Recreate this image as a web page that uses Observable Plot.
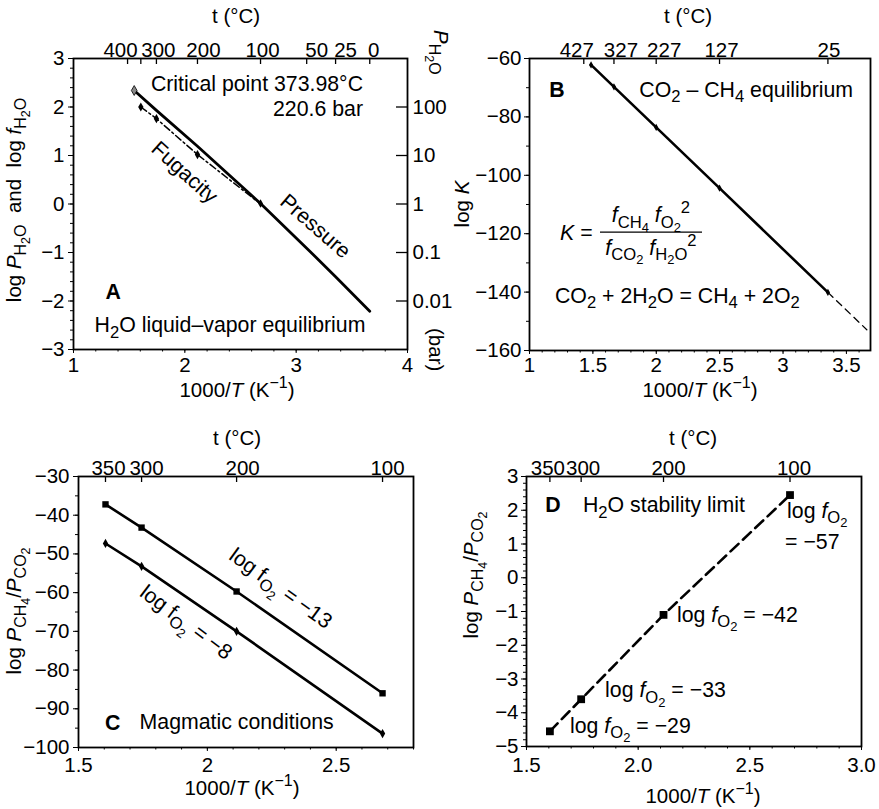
<!DOCTYPE html>
<html>
<head>
<meta charset="utf-8">
<script src="https://cdn.jsdelivr.net/npm/d3@7"></script>
<script src="https://cdn.jsdelivr.net/npm/@observablehq/plot@0.6"></script>
<style>
  body { margin: 0; background: #fff; }
  #fig { position: relative; width: 879px; height: 809px; }
  #fig svg { position: absolute; overflow: visible; }
</style>
</head>
<body>
<div id="fig"></div>
<script>
// ---------- A: H2O liquid–vapour equilibrium ----------
const satT = [373.98, 300, 200, 100, 50, 25, 0];          // °C
const satLogP = [2.34, 1.93, 1.19, 0.01, -0.91, -1.50, -2.21];
const fugT = [350, 300, 200, 100];
const fugLogF = [2.0, 1.76, 1.02, 0.0];
const topTicksA = [400, 350, 300, 200, 100, 50, 25, 0];
const topLabelsA = [400, 300, 200, 100, 50, 25, 0];
const barTicks = [-2, -1, 0, 1, 2];
const barLabels = ["0.01", "0.1", "1", "10", "100"];

// ---------- B: CO2 – CH4 equilibrium constant ----------
const eqT = [400, 327, 227, 127, 25];
const eqLogK = [-62.2, -69.7, -83.6, -104.4, -140.1];
const extT = [25, 0];
const extLogK = [-140.1, -152.9];
const topTicksB = [427, 327, 227, 127, 25];

// ---------- C: magmatic conditions ----------
const magT = [350, 300, 200, 100];
const ratioFO2m13 = [-37.2, -43.2, -59.7, -86.0];
const ratioFO2m8 = [-47.3, -53.2, -70.0, -96.4];
const topTicksCD = [350, 300, 200, 100];

// ---------- D: H2O stability limit ----------
const limT = [350, 300, 200, 100];
const limRatio = [-4.55, -3.6, -1.1, 2.45];
const limFO2 = [-29, -33, -42, -57];

// ---------- helpers ----------
const FONT = "'Liberation Sans', Arial, Helvetica, sans-serif";
const TICK = 20.5, LABEL = 21.3, TITLE = 20.5;
const MINUS = "\u2212";
const minus = d => (d < 0 ? MINUS : "") + Math.abs(d);
const invT = t => 1000 / (t + 273.15);
const none = () => "";
const steps = (a, b, s) => d3.range(Math.round((b - a) / s) + 1).map(i => +(a + i * s).toFixed(6));
const table = (ts, vs) => ts.map((t, i) => ({x: invT(t), y: vs[i]}));

// Frame, outward ticks on left/bottom, inward temperature ticks on top.
// Crowded temperature labels are nudged sideways by topNudge (px).
function frameAxes(o) {
  const nudge = o.topNudge ?? o.topLabels.map(() => 0);
  return [
    Plot.axisY({ticks: o.yMajor, tickSize: 5, tickPadding: o.yPad ?? 4, tickFormat: o.yFmt ?? minus, fontSize: TICK, label: null}),
    Plot.axisY({ticks: o.yMinor, tickSize: 3, tickFormat: none, label: null}),
    Plot.axisX({ticks: o.xMajor, tickSize: 4, tickPadding: o.xPad ?? 4, tickFormat: o.xFmt ?? (d => String(d)), fontSize: TICK, label: null}),
    Plot.axisX({ticks: o.xMinor, tickSize: 2.5, tickFormat: none, label: null}),
    Plot.ruleX(o.topTicks.map(invT), {insetBottom: o.innerH - 6, strokeWidth: 1.3}),
    ...o.topLabels.map((t, i) =>
      Plot.text([t], {x: invT, text: d => String(d), frameAnchor: "top", dy: o.topDy ?? -16, dx: nudge[i], fontSize: TICK})),
    Plot.frame({strokeWidth: 1.8})
  ];
}

function makePlot({width, height, mt, mr, mb, ml, x, y, marks}) {
  return Plot.plot({
    width, height,
    marginTop: mt, marginRight: mr, marginBottom: mb, marginLeft: ml,
    x: {domain: x, label: null},
    y: {domain: y, label: null},
    style: {fontFamily: FONT, fontSize: TICK + "px", color: "black", background: "none", overflow: "visible"},
    marks
  });
}

// Text with <i>, <sub>, <sup> markup rendered as SVG tspans
function rich(svg, markup, {x, y, anchor = "start", size = LABEL, angle = 0, weight = "normal", valign = "baseline"}) {
  const g = svg.append("g").attr("transform", `translate(${x},${y}) rotate(${angle})`);
  const text = g.append("text")
    .attr("text-anchor", anchor)
    .attr("font-family", FONT)
    .attr("font-size", size)
    .attr("font-weight", weight)
    .attr("fill", "black")
    .attr("y", valign === "middle" ? size * 0.35 : 0);
  const box = document.createElement("span");
  box.innerHTML = markup;
  let shift = 0;
  (function walk(node, st) {
    for (const child of node.childNodes) {
      if (child.nodeType === Node.TEXT_NODE) {
        text.append("tspan")
          .attr("dy", st.shift - shift)
          .attr("font-size", st.size)
          .attr("font-style", st.italic ? "italic" : null)
          .text(child.textContent);
        shift = st.shift;
      } else {
        const tag = child.nodeName.toLowerCase();
        const next = {...st};
        if (tag === "i") next.italic = true;
        if (tag === "sub") { next.shift = st.shift + st.size * 0.24; next.size = st.size * 0.78; }
        if (tag === "sup") { next.shift = st.shift - st.size * 0.42; next.size = st.size * 0.78; }
        walk(child, next);
      }
    }
  })(box, {shift: 0, size, italic: false});
  return g;
}

function annotate(plot, items) {
  const svg = d3.select(plot);
  const sx = plot.scale("x"), sy = plot.scale("y");
  for (const it of items) {
    const x = it.px ?? sx.apply(it.x);
    const y = it.py ?? sy.apply(it.y);
    rich(svg, it.text, {...it, x, y});
  }
  return svg;
}

function place(plot, left, top) {
  plot.style.left = left + "px";
  plot.style.top = top + "px";
  document.getElementById("fig").appendChild(plot);
}

const XTITLE = `1000/<i>T</i> (K<sup>${MINUS}1</sup>)`;
const H2O = "H<sub>2</sub>O";
const FO2 = "<i>f</i><sub>O<sub>2</sub></sub>";

// ================= Panel A =================
{
  const sat = table(satT, satLogP);
  const fug = table(fugT, fugLogF);
  const innerW = 440 - 73 - 33, innerH = 400 - 58 - 51;
  const plot = makePlot({
    width: 440, height: 400, mt: 58, mr: 33, mb: 51, ml: 73,
    x: [1, 4], y: [-3, 3],
    marks: [
      ...frameAxes({
        yMajor: steps(-3, 3, 1), yMinor: steps(-3, 3, 0.2),
        xMajor: steps(1, 4, 1), xMinor: steps(1, 4, 0.2),
        topTicks: topTicksA, topLabels: topLabelsA, topNudge: [-7, 2, 6, 2, 10, 10, 4], innerH
      }),
      Plot.axisY({anchor: "right", ticks: barTicks, tickSize: 0, tickPadding: 5,
        tickFormat: d => barLabels[barTicks.indexOf(d)], fontSize: TICK, label: null}),
      Plot.ruleY(barTicks, {insetLeft: innerW - 11, strokeWidth: 1.3}),
      Plot.line(fug, {x: "x", y: "y", strokeWidth: 1.5, strokeDasharray: "7,3,2,3"}),
      Plot.dot(fug.slice(0, 3), {x: "x", y: "y", symbol: "diamond", r: 2.8, fill: "black"}),
      Plot.line(sat, {x: "x", y: "y", strokeWidth: 2.8}),
      Plot.dot(sat.slice(3, 4), {x: "x", y: "y", symbol: "diamond", r: 2.6, fill: "black"}),
      Plot.dot(sat.slice(0, 1), {x: "x", y: "y", symbol: "diamond", r: 3, fill: "#888", stroke: "black", strokeWidth: 0.8})
    ]
  });
  annotate(plot, [
    {text: "Critical point 373.98°C", x: 3.605, y: 2.32, anchor: "end"},
    {text: "220.6 bar", x: 3.605, y: 1.80, anchor: "end"},
    {text: "Fugacity", x: 2.006, y: 0.65, anchor: "middle", valign: "middle", angle: 42},
    {text: "Pressure", x: 3.18, y: -0.46, anchor: "middle", valign: "middle", angle: 41},
    {text: "A", x: 1.36, y: -1.82, anchor: "middle", valign: "middle", weight: "bold"},
    {text: `${H2O} liquid–vapor equilibrium`, x: 2.41, y: -2.505, anchor: "middle", valign: "middle"},
    {text: `log <i>P</i><sub>${H2O}</sub>  and  log <i>f</i><sub>${H2O}</sub>`, px: 21, py: 200, anchor: "middle", angle: -90, size: TITLE},
    {text: XTITLE, px: 237, py: 397, anchor: "middle", size: TITLE},
    {text: "t (°C)", px: 236, py: 23, anchor: "middle", size: TITLE},
    {text: `<i>P</i><sub>${H2O}</sub>`, px: 434, py: 30, angle: 90, size: TITLE},
    {text: "(bar)", px: 429, py: 328, angle: 90, size: TITLE}
  ]);
  place(plot, 0, 0);
}

// ================= Panel B =================
{
  const eq = table(eqT, eqLogK);
  const ext = table(extT, extLogK);
  const innerH = 400 - 58 - 50;
  const plot = makePlot({
    width: 439, height: 400, mt: 58, mr: 9, mb: 50, ml: 89,
    x: [1, 3.69], y: [-160, -60],
    marks: [
      ...frameAxes({
        yMajor: steps(-160, -60, 20), yMinor: steps(-160, -60, 10), yPad: 3,
        xMajor: steps(1, 3.5, 0.5), xMinor: steps(1, 3.6, 0.1), xPad: 3,
        topTicks: topTicksB, topLabels: topTicksB, topNudge: [-7, 7, 8, 2, 1], innerH
      }),
      Plot.line(ext, {x: "x", y: "y", strokeWidth: 1.3, strokeDasharray: "7,5"}),
      Plot.line(eq, {x: "x", y: "y", strokeWidth: 2.6}),
      Plot.dot(eq, {x: "x", y: "y", symbol: "diamond", r: 2.2, fill: "black"})
    ]
  });
  const svg = annotate(plot, [
    {text: "B", x: 1.22, y: -70.9, anchor: "middle", valign: "middle", weight: "bold"},
    {text: "CO<sub>2</sub> – CH<sub>4</sub> equilibrium", x: 1.87, y: -70.8, valign: "middle"},
    {text: "<i>K</i> =", x: 1.245, y: -119.6, valign: "middle"},
    {text: `<i>f</i><sub>CH<sub>4</sub></sub> ${FO2}<sup>2</sup>`, x: 1.962, y: -116.3, anchor: "middle"},
    {text: `<i>f</i><sub>CO<sub>2</sub></sub> <i>f</i><sub>${H2O}</sub><sup>2</sup>`, x: 1.962, y: -127.4, anchor: "middle"},
    {text: `CO<sub>2</sub> + 2${H2O} = CH<sub>4</sub> + 2O<sub>2</sub>`, x: 1.205, y: -141.2, valign: "middle"},
    {text: "log <i>K</i>", px: 29, py: 204, anchor: "middle", angle: -90, size: TITLE},
    {text: XTITLE, px: 260, py: 397, anchor: "middle", size: TITLE},
    {text: "t (°C)", px: 248, py: 23, anchor: "middle", size: TITLE}
  ]);
  // fraction bar of the K expression
  const sx = plot.scale("x"), sy = plot.scale("y");
  svg.append("line")
    .attr("x1", sx.apply(1.56)).attr("x2", sx.apply(2.365))
    .attr("y1", sy.apply(-119.6)).attr("y2", sy.apply(-119.6))
    .attr("stroke", "black").attr("stroke-width", 1.3);
  place(plot, 440, 0);
}

// ================= Panel C =================
{
  const hi = table(magT, ratioFO2m13);
  const lo = table(magT, ratioFO2m8);
  const innerH = 409 - 76 - 62;
  const plot = makePlot({
    width: 440, height: 409, mt: 76, mr: 27, mb: 62, ml: 78,
    x: [1.5, 2.8], y: [-100, -30],
    marks: [
      ...frameAxes({
        yMajor: steps(-100, -30, 10), yMinor: steps(-100, -30, 5),
        xMajor: [1.5, 2, 2.5], xMinor: steps(1.5, 2.8, 0.1), xPad: 6,
        topTicks: topTicksCD, topLabels: topTicksCD, topNudge: [3, 5, 6, 5], innerH
      }),
      Plot.line(hi, {x: "x", y: "y", strokeWidth: 2.6}),
      Plot.line(lo, {x: "x", y: "y", strokeWidth: 2.6}),
      Plot.dot(hi, {x: "x", y: "y", symbol: "square", r: 3.6, fill: "black"}),
      Plot.dot(lo, {x: "x", y: "y", symbol: "diamond", r: 2.8, fill: "black"})
    ]
  });
  annotate(plot, [
    {text: `log f<sub>O<sub>2</sub></sub> = ${MINUS}13`, x: 2.288, y: -58.9, anchor: "middle", valign: "middle", angle: 36},
    {text: `log f<sub>O<sub>2</sub></sub> = ${MINUS}8`, x: 1.921, y: -67.7, anchor: "middle", valign: "middle", angle: 37},
    {text: "C", x: 1.635, y: -93.8, anchor: "middle", valign: "middle", weight: "bold"},
    {text: "Magmatic conditions", x: 1.739, y: -93.5, valign: "middle"},
    {text: "log <i>P</i><sub>CH<sub>4</sub></sub>/<i>P</i><sub>CO<sub>2</sub></sub>", px: 21, py: 211, anchor: "middle", angle: -90, size: TITLE},
    {text: XTITLE, px: 242, py: 395, anchor: "middle", size: TITLE},
    {text: "t (°C)", px: 237, py: 45, anchor: "middle", size: TITLE}
  ]);
  place(plot, 0, 400);
}

// ================= Panel D =================
{
  const lim = table(limT, limRatio);
  const innerH = 409 - 76 - 63;
  const plot = makePlot({
    width: 439, height: 409, mt: 76, mr: 18, mb: 63, ml: 86,
    x: [1.5, 3.0], y: [-5, 3],
    marks: [
      ...frameAxes({
        yMajor: steps(-5, 3, 1), yMinor: steps(-5, 3, 0.2), yPad: 3,
        xMajor: steps(1.5, 3, 0.5), xMinor: steps(1.5, 3, 0.1), xFmt: d => d.toFixed(1), xPad: 7,
        topTicks: topTicksCD, topLabels: topTicksCD, topNudge: [-2, 2, 5, 4], innerH
      }),
      Plot.line(lim, {x: "x", y: "y", strokeWidth: 2.6, strokeDasharray: "11,6"}),
      Plot.dot(lim, {x: "x", y: "y", symbol: "square", r: 4.4, fill: "black"})
    ]
  });
  const [f29, f33, f42, f57] = limFO2.map(minus);
  annotate(plot, [
    {text: "D", x: 1.621, y: 2.14, anchor: "middle", valign: "middle", weight: "bold"},
    {text: `${H2O} stability limit`, x: 1.755, y: 2.14, valign: "middle"},
    {text: `log ${FO2}`, x: 2.669, y: 1.98, valign: "middle"},
    {text: `= ${f57}`, x: 2.66, y: 1.06, valign: "middle"},
    {text: `log ${FO2} = ${f42}`, x: 2.176, y: -1.09, valign: "middle"},
    {text: `log ${FO2} = ${f33}`, x: 1.854, y: -3.34, valign: "middle"},
    {text: `log ${FO2} = ${f29}`, x: 1.697, y: -4.38, valign: "middle"},
    {text: "log <i>P</i><sub>CH<sub>4</sub></sub>/<i>P</i><sub>CO<sub>2</sub></sub>", px: 38, py: 175, anchor: "middle", angle: -90, size: TITLE},
    {text: XTITLE, px: 263, py: 403, anchor: "middle", size: TITLE},
    {text: "t (°C)", px: 253, py: 45, anchor: "middle", size: TITLE}
  ]);
  place(plot, 440, 400);
}
</script>
</body>
</html>
